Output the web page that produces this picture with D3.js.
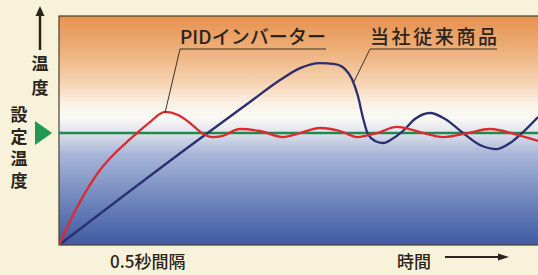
<!DOCTYPE html>
<html>
<head>
<meta charset="utf-8">
<script src="https://cdn.jsdelivr.net/npm/d3@7"></script>
<style>
  body { margin: 0; background: #f8f2da; }
  svg { display: block; }
  text { font-family: "Noto Sans CJK JP", "Noto Sans", sans-serif; fill: #2a241c; }
</style>
</head>
<body>
<div id="chart"></div>
<script>
// time in 0.5 s intervals, temperature as % of the set point
var pidTime = [0, 0.59, 1.17, 1.85, 2.53, 3.11, 3.52, 4.1, 4.78, 5.37, 5.91, 6.45, 6.9, 7.35, 8.16, 9.06, 10.1, 10.87, 11.77, 12.67, 13.44, 14.34, 15.24, 16.28, 17.32, 18.44, 19.44, 20.56, 21.6];
var pidTemp = [0, 25, 46.4, 67, 82.1, 92.9, 100, 109.8, 118.8, 116.1, 108.9, 100, 96.4, 97.3, 103.6, 101.8, 96.4, 100, 104.5, 101.8, 96.4, 100, 105.4, 100.9, 96.4, 100, 103.6, 99.1, 92.9];

var oldTime = [0, 6.27, 8.61, 9.97, 10.87, 11.77, 12.45, 12.9, 13.21, 13.48, 13.71, 13.93, 14.25, 14.61, 15.02, 15.51, 16.05, 16.73, 17.41, 18.22, 18.98, 19.75, 20.34, 20.88, 21.6];
var oldTemp = [0, 93.8, 127.7, 147.3, 158, 162.5, 161.6, 157.1, 148.2, 133, 113.4, 99.1, 92.9, 91.1, 94.6, 101.8, 112.5, 117.9, 112.5, 100, 89.3, 85.7, 91.1, 100, 114.3];

var setPoint = 100;

var labels = {
  pid: "PIDインバーター",
  old: "当社従来商品",
  yTop: "温度",
  ySet: "設定温度",
  xLeft: "0.5秒間隔",
  xRight: "時間"
};

var width = 538, height = 275;
var plot = {left: 59, right: 538, top: 16, bottom: 245};

var svg = d3.select("#chart")
  .append("svg")
    .attr("width", width)
    .attr("height", height);

var x = d3.scaleLinear()
    .domain([0, 21.6])
    .range([plot.left, plot.right]);

var y = d3.scaleLinear()
    .domain([0, 204.5])
    .range([plot.bottom, plot.top]);

// background gradient
var defs = svg.append("defs");
var grad = defs.append("linearGradient")
    .attr("id", "bg")
    .attr("x1", 0).attr("y1", 0).attr("x2", 0).attr("y2", 1);
var stops = [
  [0, "#e6914f"], [0.15, "#eeb079"], [0.3, "#f6d6b6"], [0.38, "#faf0e4"],
  [0.44, "#fbfaf5"], [0.5, "#e3e6ee"], [0.54, "#ccd3e4"], [0.6, "#aab7d8"],
  [0.8, "#7086bd"], [1, "#3f5aa0"]
];
stops.forEach(function(s) {
  grad.append("stop").attr("offset", s[0]).attr("stop-color", s[1]);
});

defs.append("clipPath").attr("id", "clip")
  .append("rect")
    .attr("x", plot.left).attr("y", plot.top)
    .attr("width", plot.right - plot.left).attr("height", plot.bottom - plot.top);

svg.append("rect")
    .attr("x", plot.left).attr("y", plot.top)
    .attr("width", plot.right - plot.left + 2).attr("height", plot.bottom - plot.top)
    .attr("fill", "url(#bg)")
    .attr("stroke", "#4a4030")
    .attr("stroke-width", 1.2);

var g = svg.append("g").attr("clip-path", "url(#clip)");

// set point line
g.append("line")
    .attr("x1", plot.left).attr("x2", plot.right)
    .attr("y1", y(setPoint)).attr("y2", y(setPoint))
    .attr("stroke", "#1e8a4c")
    .attr("stroke-width", 2.5);

var line = d3.line()
    .x(function(d) { return x(d[0]); })
    .y(function(d) { return y(d[1]); })
    .curve(d3.curveMonotoneX);

g.append("path")
    .datum(d3.zip(oldTime, oldTemp))
    .attr("d", line)
    .attr("fill", "none")
    .attr("stroke", "#2b2e70")
    .attr("stroke-width", 2.3);

g.append("path")
    .datum(d3.zip(pidTime, pidTemp))
    .attr("d", line)
    .attr("fill", "none")
    .attr("stroke", "#dc2a2e")
    .attr("stroke-width", 2.3);

// callout labels
function callout(text, tx, ty, tw, px, py) {
  svg.append("text")
      .attr("x", tx).attr("y", ty)
      .attr("font-size", 19)
      .attr("font-weight", 500)
      .attr("textLength", tw)
      .text(text);
  svg.append("polyline")
      .attr("points", [[tx + tw, ty + 5], [tx, ty + 5], [px, py]].join(" "))
      .attr("fill", "none")
      .attr("stroke", "#3a3328")
      .attr("stroke-width", 1);
}
callout(labels.pid, 180, 44, 146, x(4.78), y(118.8) + 1);
callout(labels.old, 370, 44, 127, x(13.28), y(145));

// y axis labels
svg.append("line")
    .attr("x1", 40).attr("x2", 40)
    .attr("y1", 50).attr("y2", 12)
    .attr("stroke", "#2a241c")
    .attr("stroke-width", 2.5);
svg.append("path")
    .attr("d", "M40,6 L35.5,16 L44.5,16 Z")
    .attr("fill", "#2a241c");

function vertical(text, cx, top, spacing) {
  svg.append("text")
      .attr("x", cx).attr("y", top)
      .attr("writing-mode", "vertical-rl")
      .attr("letter-spacing", spacing)
      .attr("font-size", 17).attr("font-weight", 700)
      .text(text);
}
vertical(labels.yTop, 40, 55, 7);
vertical(labels.ySet, 19, 106, 5);

svg.append("path")
    .attr("d", "M35," + (y(setPoint) - 12) + " L52," + y(setPoint) + " L35," + (y(setPoint) + 12) + " Z")
    .attr("fill", "#1e9a50");

// x axis labels
svg.append("text")
    .attr("x", 110).attr("y", 268)
    .attr("font-size", 17).attr("font-weight", 500)
    .text(labels.xLeft);
svg.append("text")
    .attr("x", 397).attr("y", 268)
    .attr("font-size", 17).attr("font-weight", 500)
    .text(labels.xRight);
svg.append("line")
    .attr("x1", 445).attr("x2", 500)
    .attr("y1", 257).attr("y2", 257)
    .attr("stroke", "#2a241c")
    .attr("stroke-width", 2);
svg.append("path")
    .attr("d", "M509,257 L498,253.5 L498,260.5 Z")
    .attr("fill", "#2a241c");
</script>
</body>
</html>
